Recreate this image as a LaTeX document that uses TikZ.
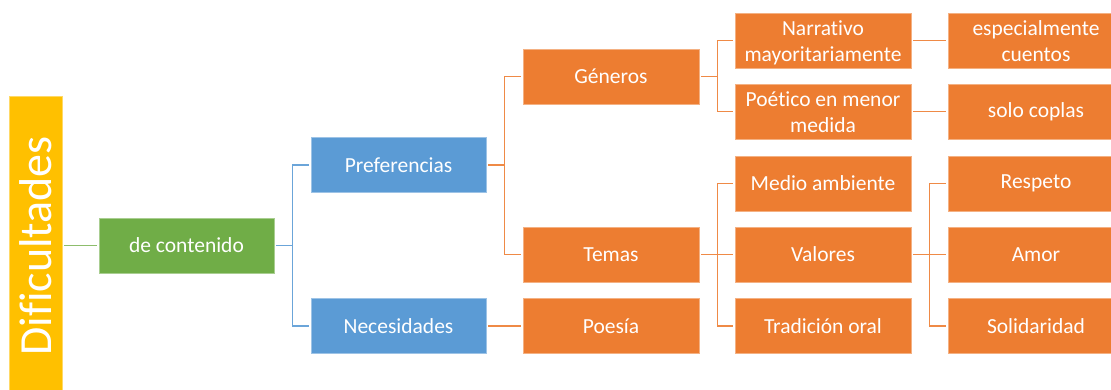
\documentclass[tikz,border=0pt]{standalone}
\usepackage{fontspec}
\setmainfont[Ligatures={NoCommon}]{Carlito}
\definecolor{cOrange}{HTML}{ED7D31}
\definecolor{cBlue}{HTML}{5B9BD5}
\definecolor{cGreen}{HTML}{70AD47}
\definecolor{cYellow}{HTML}{FFC000}
\newcommand{\twol}[2]{\raisebox{-2.5pt}[\height][\depth]{\begin{tabular}{@{}c@{}}#1\\[0pt]#2\end{tabular}}}
\begin{document}
\begin{tikzpicture}[x=1pt,y=-1pt,
  box/.style={rectangle, inner sep=0pt, minimum height=55pt, text=white, align=center,
    font=\fontsize{21.5}{26.5}\selectfont, line width=0.8pt},
  obox/.style={box, fill=cOrange, draw=cOrange!60!white, minimum width=176pt},
  bbox/.style={box, fill=cBlue, draw=cBlue!60!white, minimum width=175pt},
  gbox/.style={box, fill=cGreen, draw=cGreen!60!white, minimum width=175pt},
  oline/.style={draw=cOrange!90!white, line width=1.6pt},
  bline/.style={draw=cBlue!90!white, line width=1.6pt},
  gline/.style={draw=cGreen!80!white, line width=1.6pt},
]
\useasboundingbox (0,0) rectangle (1111,389);
\fill[white] (0,0) rectangle (1111,389);

\node[box, fill=cYellow, draw=cYellow!60!white, minimum width=300pt, minimum height=53pt,
  font=\fontsize{46}{50}\selectfont, rotate=90] (dif) at (35.5,246) {Dificultades};
\coordinate (difR) at (64,245.5);

\node[gbox] (dc) at (186.5,245.5) {de contenido};

\node[bbox] (pref) at (398.5,165) {Preferencias};
\node[bbox] (nec) at (398.5,326) {Necesidades};

\node[obox] (gen) at (611,76.5) {Géneros};
\node[obox] (tem) at (611,254.5) {Temas};
\node[obox] (poe) at (611,326) {Poesía};

\node[obox] (nar) at (823,40.5) {\twol{Narrativo}{mayoritariamente}};
\node[obox] (poet) at (823,111.5) {\twol{Poético en menor}{medida}};
\node[obox] (med) at (823,183.5) {Medio ambiente};
\node[obox] (val) at (823,254.5) {Valores};
\node[obox] (tra) at (823,326) {Tradición oral};

\node[obox] (esp) at (1036,40.5) {\twol{especialmente}{cuentos}};
\node[obox] (sol) at (1036,111.5) {solo coplas};
\node[obox] (res) at (1036,183.5) {Respeto};
\node[obox] (amo) at (1036,254.5) {Amor};
\node[obox] (sold) at (1036,326) {Solidaridad};

% connectors
\draw[gline] (difR) -- ([xshift=-2pt]dc.west);

\draw[bline] ([xshift=2pt]dc.east) -- ++(16,0) coordinate (b1) |- ([xshift=-2pt]pref.west);
\draw[bline] (b1) |- ([xshift=-2pt]nec.west);

\draw[oline] ([xshift=2pt]pref.east) -- ++(16,0) coordinate (o1) |- ([xshift=-2pt]gen.west);
\draw[oline] (o1) |- ([xshift=-2pt]tem.west);
\draw[oline] ([xshift=2pt]nec.east) -- ([xshift=-2pt]poe.west);

\draw[oline] ([xshift=2pt]gen.east) -- ++(16,0) coordinate (o2) |- ([xshift=-2pt]nar.west);
\draw[oline] (o2) |- ([xshift=-2pt]poet.west);

\draw[oline] ([xshift=2pt]tem.east) -- ++(16,0) coordinate (o3) |- ([xshift=-2pt]val.west);
\draw[oline] (o3) |- ([xshift=-2pt]med.west);
\draw[oline] (o3) |- ([xshift=-2pt]tra.west);

\draw[oline] ([xshift=2pt]nar.east) -- ([xshift=-2pt]esp.west);
\draw[oline] ([xshift=2pt]poet.east) -- ([xshift=-2pt]sol.west);

\draw[oline] ([xshift=2pt]val.east) -- ++(16,0) coordinate (o4) |- ([xshift=-2pt]amo.west);
\draw[oline] (o4) |- ([xshift=-2pt]res.west);
\draw[oline] (o4) |- ([xshift=-2pt]sold.west);
\end{tikzpicture}
\end{document}
